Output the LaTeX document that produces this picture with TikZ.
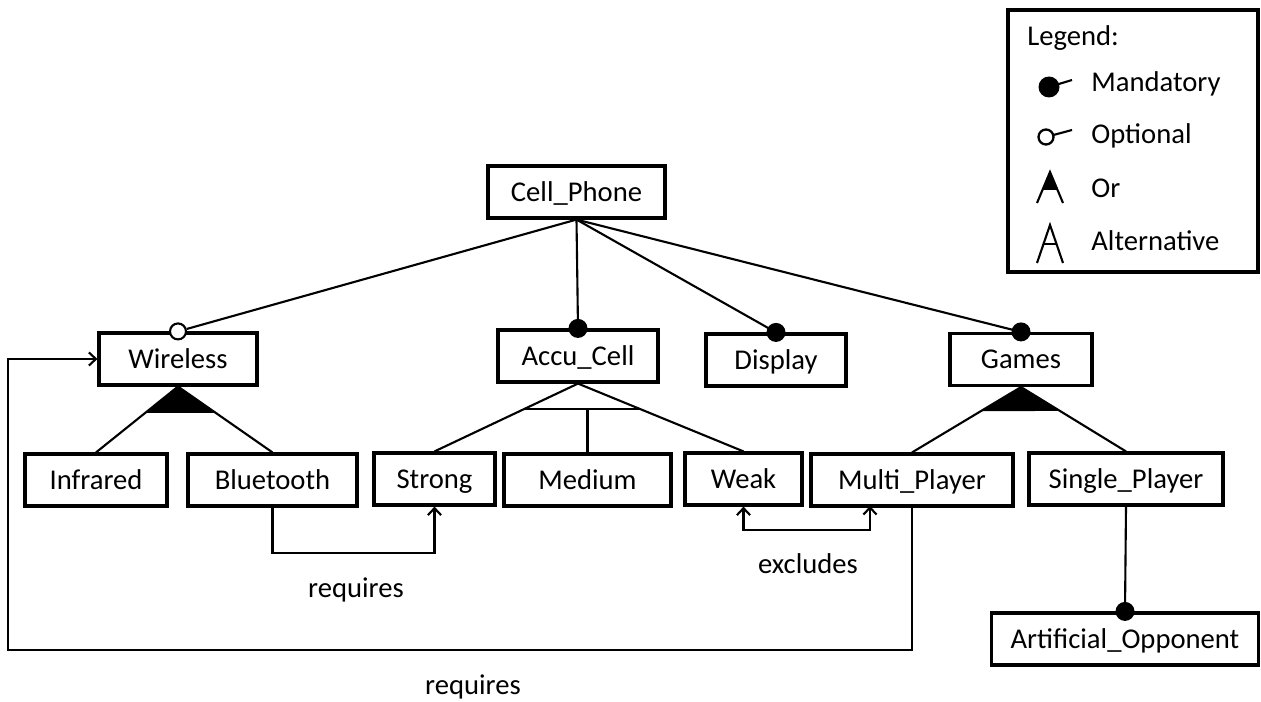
\documentclass[tikz,border=0pt]{standalone}
\usepackage{fontspec}
\setmainfont{Carlito}
\usetikzlibrary{calc,arrows.meta}
\begin{document}
\begin{tikzpicture}[x=0.02cm,y=-0.02cm,
  font=\fontsize{16.3}{19}\selectfont,
  box/.style={draw,line width=1.8pt,inner sep=0pt,minimum height=1.04cm,text height=14pt,text depth=3.5pt},
  conn/.style={line width=1.2pt},
  mand/.style={circle,fill=black,inner sep=0pt,minimum size=0.38cm},
  opt/.style={circle,draw,fill=white,line width=1.2pt,inner sep=0pt,minimum size=0.32cm},
  req/.style={conn,-{Straight Barb[length=4pt,width=7.5pt,line width=1.2pt]}},
  lbl/.style={inner sep=0pt}]
\useasboundingbox (0,0) rectangle (1261,702);
% feature boxes
\node[box,minimum width=3.54cm] (cell) at (576.5,192) {Cell\_Phone};
\node[box,minimum width=3.16cm] (wir) at (178,359) {Wireless};
\node[box,minimum width=3.20cm] (acc) at (578,356) {Accu\_Cell};
\node[box,minimum width=2.80cm] (disp) at (776,360) {Display};
\node[box,minimum width=2.84cm] (games) at (1021,359.5) {Games};
\node[box,minimum width=2.84cm] (inf) at (96,480) {Infrared};
\node[box,minimum width=3.38cm] (blu) at (272.5,480) {Bluetooth};
\node[box,minimum width=2.42cm] (str) at (434.5,479) {Strong};
\node[box,minimum width=3.34cm] (med) at (587.5,480) {Medium};
\node[box,minimum width=2.34cm] (weak) at (743.5,479) {Weak};
\node[box,minimum width=4.04cm] (multi) at (912,480) {Multi\_Player};
\node[box,minimum width=3.88cm] (single) at (1126,479) {Single\_Player};
\node[box,minimum width=5.34cm] (art) at (1125,639) {Artificial\_Opponent};
% mandatory / optional markers
\node[opt] (oWir) at (wir.north) {};
\node[mand] (mAcc) at (acc.north) {};
\node[mand] (mDisp) at (disp.north) {};
\node[mand] (mGames) at (games.north) {};
\node[mand] (mArt) at (art.north) {};
\draw[conn] (cell.south) -- (oWir);
\draw[conn] (cell.south) -- (mAcc.center);
\draw[conn] (cell.south) -- (mDisp.center);
\draw[conn] (cell.south) -- (mGames.center);
\draw[conn] (single.south) -- (mArt.center);
% Or group: Wireless
\fill (wir.south) -- ($(wir.south)!0.4!(inf.north)$) -- ($(wir.south)!0.4!(blu.north)$) -- cycle;
\draw[conn] (wir.south) -- (inf.north);
\draw[conn] (wir.south) -- (blu.north);
% Or group: Games
\fill (games.south) -- ($(games.south)!0.37!(multi.north)$) -- ($(games.south)!0.37!(single.north)$) -- cycle;
\draw[conn] (games.south) -- (multi.north);
\draw[conn] (games.south) -- (single.north);
% Alternative group: Accu_Cell
\coordinate (aL) at ($(acc.south)!0.37!(str.north)$);
\coordinate (aR) at ($(acc.south)!0.37!(weak.north)$);
\draw[conn] (acc.south) -- (str.north);
\draw[conn] (acc.south) -- (weak.north);
\draw[conn] (aL) -- (aR);
\draw[conn] (med.north |- aL) -- (med.north);
% requires: Bluetooth -> Strong
\draw[req] (blu.south) -- (blu.south |- 0,553) -| (str.south);
\node[lbl] (reqA) at (356,590) {requires};
% excludes: Weak <-> Multi_Player
\coordinate (exM) at (870,506);
\draw[conn,{Straight Barb[length=4pt,width=7.5pt,line width=1.2pt]}-{Straight Barb[length=4pt,width=7.5pt,line width=1.2pt]}]
  (weak.south) -- (weak.south |- 0,530) -| (exM);
\node[lbl] (excl) at (808,564) {excludes};
% requires: Multi_Player -> Wireless
\coordinate (rq1) at (8,650);
\draw[req] (multi.south) -- (multi.south |- rq1) -- (rq1) |- (wir.west);
\node[lbl] (reqB) at (473,687) {requires};
% legend
\node[draw,line width=1.8pt,minimum width=5.0cm,minimum height=5.24cm,inner sep=0pt] (leg) at (1133,141) {};
\node[lbl,anchor=west] (legT) at (1027,38) {Legend:};
\node[circle,fill=black,inner sep=0pt,minimum size=0.42cm] (lm) at (1049,87) {};
\coordinate (lmE) at (1072,80);
\draw[conn] (lm.center) -- (lmE);
\node[lbl,anchor=west] (lmT) at (1091,84) {Mandatory};
\coordinate (loE) at (1072,130);
\draw[conn] (1046,137) -- (loE);
\node[circle,draw,fill=white,line width=1.3pt,inner sep=0pt,minimum size=0.3cm] (lo) at (1046,137) {};
\node[lbl,anchor=west] (loT) at (1091,136) {Optional};
\coordinate (orA) at (1050,172);
\coordinate (orL) at (1037,203);
\coordinate (orR) at (1063,203);
\fill (orA) -- ($(orA)!0.58!(orL)$) -- ($(orA)!0.58!(orR)$) -- cycle;
\draw[conn] (orL) -- (orA) -- (orR);
\node[lbl,anchor=west] (orT) at (1091,188) {Or};
\coordinate (alA) at (1050,225);
\coordinate (alL) at (1037,263);
\coordinate (alR) at (1063,263);
\draw[conn] (alL) -- (alA) -- (alR);
\draw[conn] ($(alA)!0.5!(alL)$) -- ($(alA)!0.5!(alR)$);
\node[lbl,anchor=west] (alT) at (1091,241) {Alternative};
\end{tikzpicture}
\end{document}
